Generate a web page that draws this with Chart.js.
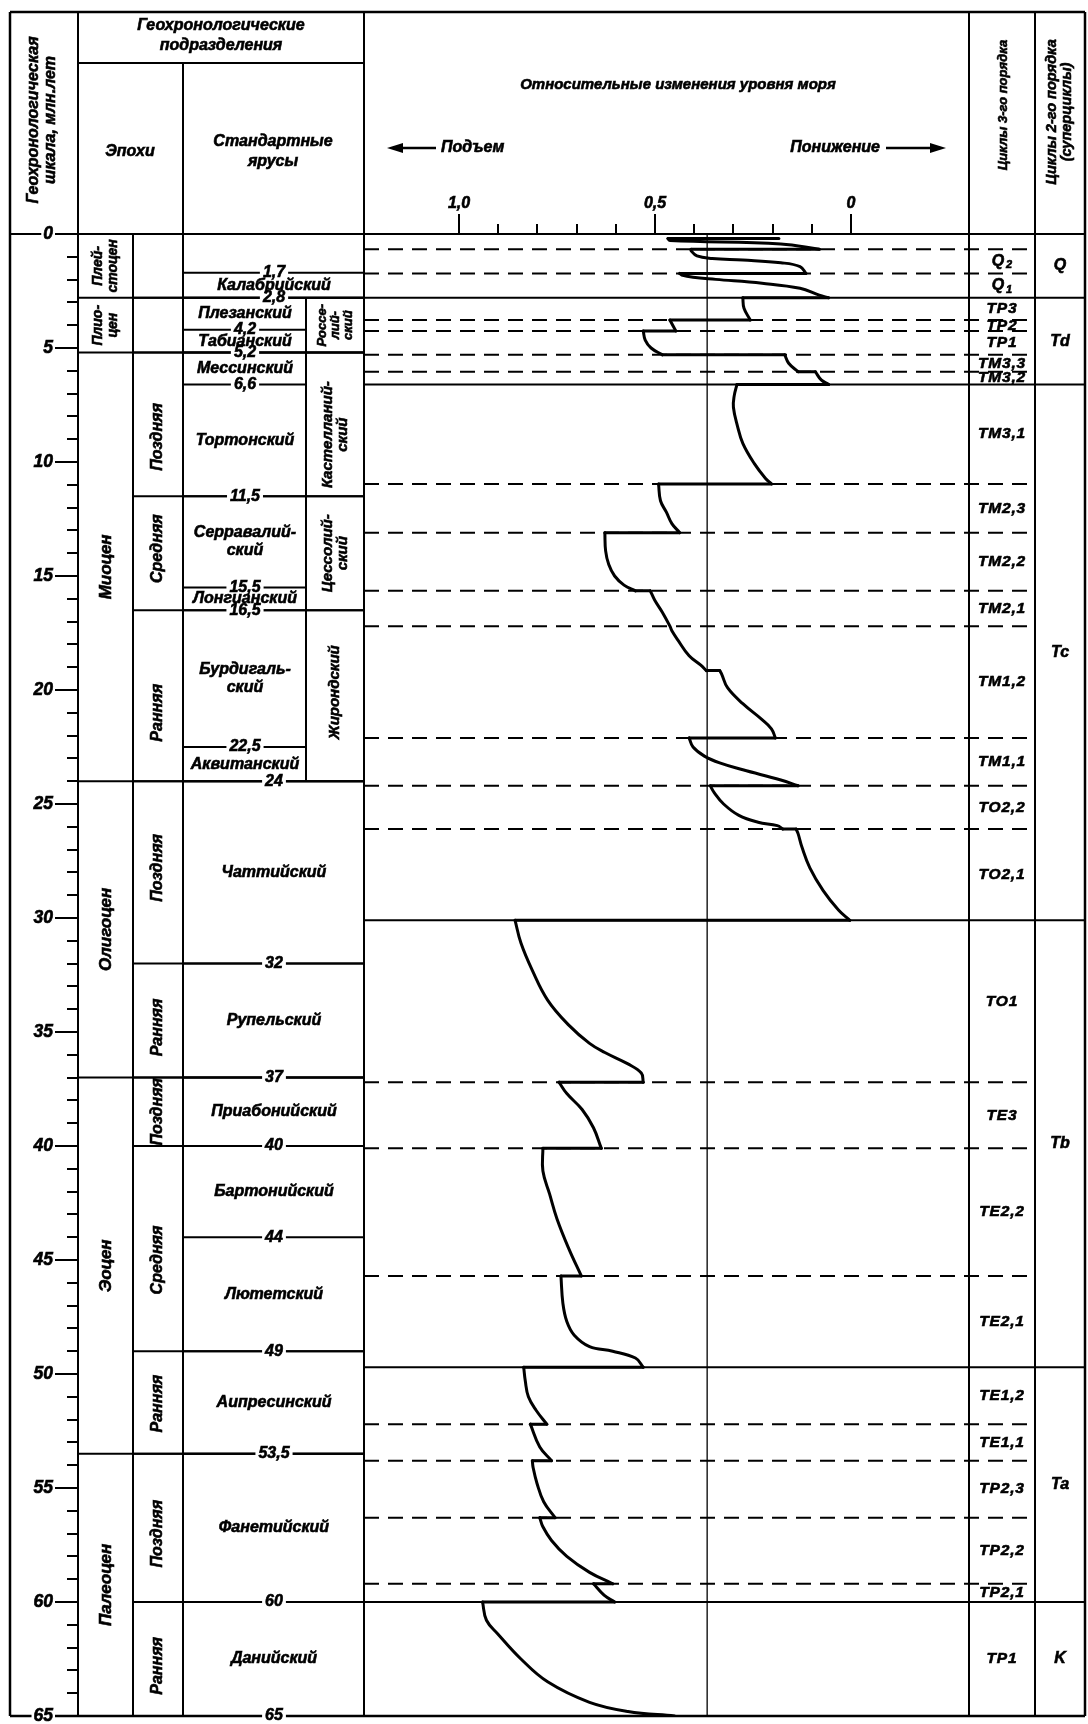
<!DOCTYPE html>
<html lang="ru">
<head>
<meta charset="utf-8">
<title>Относительные изменения уровня моря</title>
<script src="https://cdn.jsdelivr.net/npm/chart.js@4.4.1/dist/chart.umd.min.js"></script>
<style>
  html, body { margin: 0; padding: 0; background: #fff; }
  canvas { display: block; }
</style>
</head>
<body>
<canvas id="seaLevelChart" width="1088" height="1724"></canvas>
<script>
// ---- values ----

// relative sea-level curve, from oldest (65 Ma) to youngest; equal neighbouring ages = abrupt step
const curveLevel = [
  0.45, 0.569, 0.667, 0.774, 0.842, 0.901, 0.930, 0.940,
  0.603, 0.630, 0.657,
  0.608, 0.667, 0.725, 0.764, 0.786, 0.794,
  0.755, 0.784, 0.801, 0.811, 0.813,
  0.764, 0.794, 0.818,
  0.776, 0.803, 0.823, 0.831, 0.835,
  0.530, 0.550, 0.608, 0.667, 0.706, 0.725, 0.735, 0.740,
  0.688, 0.720, 0.750, 0.769, 0.786, 0.786,
  0.637, 0.657, 0.686, 0.725, 0.745,
  0.530, 0.535, 0.569, 0.628, 0.667, 0.720, 0.774, 0.813, 0.842, 0.857,
  0.003, 0.032, 0.071, 0.105, 0.125, 0.135, 0.140,
  0.174, 0.188, 0.237, 0.286, 0.325, 0.349, 0.359,
  0.135, 0.179, 0.276, 0.335, 0.374, 0.403, 0.413,
  0.193, 0.203, 0.227, 0.276, 0.315, 0.330, 0.335,
  0.369, 0.384, 0.413, 0.442, 0.457, 0.462, 0.481, 0.501, 0.512,
  0.550, 0.579, 0.603, 0.618, 0.626, 0.628,
  0.437, 0.457, 0.471, 0.486, 0.491,
  0.203, 0.218, 0.247, 0.276, 0.290, 0.300, 0.298, 0.291,
  0.057, 0.076, 0.091,
  0.135, 0.159, 0.169,
  0.481, 0.510, 0.525, 0.530,
  0.447, 0.462,
  0.257, 0.273, 0.276,
  0.057, 0.081, 0.130, 0.227, 0.345, 0.403, 0.432, 0.437,
  0.115, 0.130, 0.179, 0.276, 0.354, 0.393, 0.408, 0.408,
  0.081, 0.179, 0.462, 0.467,
  0.184
];
const curveAge = [
  65.0, 64.8, 64.4, 63.5, 62.5, 61.4, 60.8, 60.0,
  60.0, 59.7, 59.2,
  59.2, 58.7, 58.0, 57.3, 56.7, 56.3,
  56.3, 55.6, 54.8, 54.1, 53.8,
  53.8, 53.2, 52.2,
  52.2, 51.6, 51.0, 50.3, 49.7,
  49.7, 49.3, 49.0, 48.8, 48.3, 47.7, 46.9, 45.7,
  45.7, 44.5, 43.2, 42.1, 41.1, 40.1,
  40.1, 39.2, 38.4, 37.7, 37.2,
  37.2, 36.8, 36.4, 35.9, 35.5, 34.7, 33.6, 32.3, 31.1, 30.1,
  30.1, 29.65, 28.8, 27.8, 26.9, 26.3, 26.1,
  26.1, 25.95, 25.8, 25.5, 25.0, 24.5, 24.2,
  24.2, 23.95, 23.5, 23.2, 22.9, 22.5, 22.1,
  22.1, 21.7, 21.3, 20.6, 19.9, 19.3, 19.15,
  19.15, 18.9, 18.5, 17.8, 17.4, 17.2, 16.6, 16.05, 15.65,
  15.65, 15.4, 15.0, 14.5, 13.9, 13.1,
  13.1, 12.7, 12.2, 11.7, 10.96,
  10.96, 10.72, 10.06, 9.18, 8.4, 7.6, 7.1, 6.6,
  6.6, 6.4, 6.04,
  6.04, 5.67, 5.3,
  5.3, 5.0, 4.65, 4.25,
  4.25, 3.77,
  3.77, 3.26, 2.8,
  2.8, 2.68, 2.38, 2.16, 1.99, 1.90, 1.80, 1.73,
  1.73, 1.43, 1.26, 1.14, 1.07, 0.96, 0.73, 0.67,
  0.67, 0.44, 0.29, 0.2,
  0.2
];
const presentLevel = 0.367;

const timeMajorTicks = [0, 5, 10, 15, 20, 25, 30, 35, 40, 45, 50, 55, 60, 65];
const timeMinorTicks = [0, 1, 2, 3, 4, 5, 6, 7, 8, 9, 10, 11, 12, 13, 14, 15, 16, 17, 18, 19, 20,
  21, 22, 23, 24, 25, 26, 27, 28, 29, 30, 31, 32, 33, 34, 35, 36, 37, 38, 39, 40, 41, 42, 43,
  44, 45, 46, 47, 48, 49, 50, 51, 52, 53, 54, 55, 56, 57, 58, 59, 60, 61, 62, 63, 64, 65];
const levelTicks = [1.0, 0.5, 0];
const levelTickLabels = ['1,0', '0,5', '0'];
const levelMinorTicks = [0.9, 0.8, 0.7, 0.6, 0.4, 0.3, 0.2, 0.1];

const epochNames = ['Плей-\nстоцен', 'Плио-\nцен', 'Миоцен', 'Олигоцен', 'Эоцен', 'Палеоцен'];
const epochBounds = [0, 2.8, 5.2, 24, 37, 53.5, 65];

const subEpochNames = ['', '', 'Поздняя', 'Средняя', 'Ранняя', 'Поздняя', 'Ранняя',
  'Поздняя', 'Средняя', 'Ранняя', 'Поздняя', 'Ранняя'];
const subEpochBounds = [0, 2.8, 5.2, 11.5, 16.5, 24, 32, 37, 40, 49, 53.5, 60, 65];
const subEpochLabelAt = [1.4, 4, 8.9, 13.8, 21.0, 27.8, 34.8, 38.5, 45.0, 51.3, 57.0, 62.8];

const stageNames = ['', 'Калабрийский', 'Плезанский', 'Табианский', 'Мессинский', 'Тортонский',
  'Серравалий-\nский', 'Лонгианский', 'Бурдигаль-\nский', 'Аквитанский', 'Чаттийский', 'Рупельский',
  'Приабонийский', 'Бартонийский', 'Лютетский', 'Аипресинский', 'Фанетийский', 'Данийский'];
const stageBounds = [0, 1.7, 2.8, 4.2, 5.2, 6.6, 11.5, 15.5, 16.5, 22.5, 24, 32, 37, 40, 44, 49, 53.5, 60, 65];

const regionalNames = ['Россе-\nлий-\nский', 'Кастелланий-\nский', 'Цессолий-\nский', 'Жирондский'];
const regionalBounds = [2.8, 5.2, 11.5, 16.5, 24];
const regionalLabelAt = [4.0, 8.8, 14.0, 20.1];

const cycle3Names = ['', 'Q2', 'Q1', 'TP3', 'TP2', 'TP1', 'TM3,3', 'TM3,2', 'TM3,1', 'TM2,3', 'TM2,2',
  'TM2,1', 'TM1,2', 'TM1,1', 'TO2,2', 'TO2,1', 'TO1', 'TE3', 'TE2,2', 'TE2,1', 'TE1,2', 'TE1,1',
  'TP2,3', 'TP2,2', 'TP2,1', 'TP1'];
const cycle3Bounds = [0, 0.67, 1.73, 2.8, 3.77, 4.25, 5.3, 6.04, 6.6, 10.96, 13.1, 15.65, 17.2, 22.1,
  24.2, 26.1, 30.1, 37.2, 40.1, 45.7, 49.7, 52.2, 53.8, 56.3, 59.2, 60, 65];

const cycle2Names = ['Q', 'Td', 'Tc', 'Tb', 'Ta', 'K'];
const cycle2Bounds = [0, 2.8, 6.6, 30.1, 49.7, 60, 65];

// ---- layout (px) ----
const FONT = '"Liberation Sans", Arial, sans-serif';
const X_LEFT = 10, X_TIME = 78, X_EPOCH = 133, X_SUB = 183, X_REG = 306, X_STAGE = 364;
const X_PLOT_R = 969, X_CYC3 = 1035, X_RIGHT = 1085;
const Y_TOP = 12, Y_HEAD = 63;

Chart.defaults.font = { family: FONT, size: 16, style: 'italic', weight: 'bold' };
Chart.defaults.color = '#000';

function hLine(ctx, x1, x2, y, w, dash) {
  ctx.beginPath();
  ctx.lineWidth = w || 2;
  ctx.setLineDash(dash || []);
  ctx.moveTo(x1, y);
  ctx.lineTo(x2, y);
  ctx.stroke();
}

function vLine(ctx, x, y1, y2, w) {
  ctx.beginPath();
  ctx.lineWidth = w || 2;
  ctx.setLineDash([]);
  ctx.moveTo(x, y1);
  ctx.lineTo(x, y2);
  ctx.stroke();
}

function arrow(ctx, xFrom, xTo, y) {
  const dir = Math.sign(xTo - xFrom);
  ctx.setLineDash([]);
  ctx.lineWidth = 2.5;
  ctx.beginPath();
  ctx.moveTo(xFrom, y);
  ctx.lineTo(xTo - dir * 10, y);
  ctx.stroke();
  ctx.beginPath();
  ctx.moveTo(xTo, y);
  ctx.lineTo(xTo - dir * 16, y - 5);
  ctx.lineTo(xTo - dir * 16, y + 5);
  ctx.closePath();
  ctx.fill();
}

// bold italic text, heavier than the plain font to match the print
function say(ctx, s, x, y, size, o = {}) {
  ctx.save();
  ctx.font = `italic bold ${size}px ${FONT}`;
  ctx.fillStyle = '#000';
  ctx.strokeStyle = '#000';
  ctx.lineWidth = 0.6;
  ctx.setLineDash([]);
  if (o.spacing) ctx.letterSpacing = o.spacing;
  ctx.textAlign = o.align || 'center';
  ctx.textBaseline = 'middle';
  ctx.translate(x, y);
  if (o.vertical) ctx.rotate(-Math.PI / 2);
  const rows = s.split('\n');
  const lh = o.lh || size;
  rows.forEach((row, i) => {
    const dy = (i - (rows.length - 1) / 2) * lh;
    if (o.gap) {
      const w = ctx.measureText(row).width;
      ctx.fillStyle = '#fff';
      ctx.fillRect(-w / 2 - 3, dy - 4, w + 6, 8);
      ctx.fillStyle = '#000';
    }
    ctx.fillText(row, 0, dy);
    ctx.strokeText(row, 0, dy);
  });
  ctx.restore();
}

const isNarrowStage = a => a > 2.8 && a < 24;

const geoFrame = {
  id: 'geoFrame',
  beforeDraw(chart) {
    const ctx = chart.ctx;
    const Y = a => chart.scales.y.getPixelForValue(a);
    const yTop = Y(0), yBot = Y(65);
    ctx.save();
    ctx.fillStyle = '#fff';
    ctx.fillRect(0, 0, chart.width, chart.height);
    ctx.strokeStyle = '#000';

    // cycle boundaries across the curve panel
    cycle3Bounds.forEach(b => {
      if (b === 0 || b === 65 || cycle2Bounds.includes(b)) return;
      hLine(ctx, X_STAGE, X_CYC3, Y(b), 2, [15, 9]);
    });
    cycle2Bounds.forEach(b => {
      if (b > 0 && b < 65) hLine(ctx, X_STAGE, X_RIGHT, Y(b), 2);
    });

    // table rows
    epochBounds.forEach(b => { if (b > 0 && b < 65) hLine(ctx, X_TIME, X_STAGE, Y(b), 2); });
    subEpochBounds.forEach(b => { if (b > 0 && b < 65) hLine(ctx, X_EPOCH, X_STAGE, Y(b), 2); });
    stageBounds.forEach(b => {
      if (b <= 0 || b >= 65) return;
      const end = isNarrowStage(b) && !regionalBounds.includes(b) ? X_REG : X_STAGE;
      hLine(ctx, X_SUB, end, Y(b), 2);
    });

    // columns
    vLine(ctx, X_LEFT, Y_TOP, yBot, 2.5);
    vLine(ctx, X_TIME, Y_TOP, yBot, 2);
    vLine(ctx, X_EPOCH, yTop, yBot, 2);
    vLine(ctx, X_SUB, Y_HEAD, yBot, 2);
    vLine(ctx, X_REG, Y(2.8), Y(24), 2);
    vLine(ctx, X_STAGE, Y_TOP, yBot, 2);
    vLine(ctx, X_PLOT_R, Y_TOP, yBot, 2);
    vLine(ctx, X_CYC3, Y_TOP, yBot, 2);
    vLine(ctx, X_RIGHT, Y_TOP, yBot, 2.5);
    hLine(ctx, X_LEFT, X_RIGHT, Y_TOP, 2.5);
    hLine(ctx, X_TIME, X_STAGE, Y_HEAD, 2);
    hLine(ctx, X_LEFT, X_RIGHT, yTop, 2);
    hLine(ctx, X_LEFT, X_RIGHT, yBot, 2.5);
    ctx.restore();
  },
  afterDraw(chart) {
    const ctx = chart.ctx;
    const Y = a => chart.scales.y.getPixelForValue(a);
    ctx.save();
    ctx.fillStyle = '#000';
    ctx.strokeStyle = '#000';

    // headers
    say(ctx, 'Геохронологическая\nшкала, млн.лет', 42, 120, 16, { vertical: true, lh: 17 });
    say(ctx, 'Геохронологические\nподразделения', 221, 36, 16, { lh: 20 });
    say(ctx, 'Эпохи', 130, 152, 16);
    say(ctx, 'Стандартные\nярусы', 273, 152, 16, { lh: 20 });
    say(ctx, 'Относительные изменения уровня моря', 678, 85, 15);
    say(ctx, 'Подъем', 441, 148, 16, { align: 'left' });
    say(ctx, 'Понижение', 880, 148, 16, { align: 'right' });
    arrow(ctx, 436, 387, 148);
    arrow(ctx, 886, 946, 148);
    say(ctx, 'Циклы 3-го порядка', 1003, 105, 13, { vertical: true });
    say(ctx, 'Циклы 2-го порядка\n(суперциклы)', 1059, 112, 14.5, { vertical: true, lh: 15 });

    // epochs
    epochNames.forEach((n, i) => {
      const span = epochBounds[i + 1] - epochBounds[i];
      say(ctx, n, 106, Y((epochBounds[i] + epochBounds[i + 1]) / 2), span < 4 ? 14 : 17,
        { vertical: true, lh: 15 });
    });
    subEpochNames.forEach((n, i) => {
      if (n) say(ctx, n, 158, Y(subEpochLabelAt[i]), 16, { vertical: true });
    });

    // stage boundary ages written on the lines
    stageBounds.forEach(b => {
      if (b === 0) return;
      const x = isNarrowStage(b) ? 245 : 274;
      say(ctx, String(b).replace('.', ','), x, Y(b), 16, { gap: true });
    });
    stageNames.forEach((n, i) => {
      if (!n) return;
      const a = (stageBounds[i] + stageBounds[i + 1]) / 2;
      const x = isNarrowStage(a) ? 245 : 274;
      say(ctx, n, x, Y(a), 16, { lh: 18 });
    });
    regionalNames.forEach((n, i) => {
      const rows = n.split('\n').length;
      say(ctx, n, 335, Y(regionalLabelAt[i]), rows > 2 ? 13 : 15, { vertical: true, lh: rows > 2 ? 13 : 15 });
    });

    // cycles
    cycle3Names.forEach((n, i) => {
      if (!n) return;
      const y = Y((cycle3Bounds[i] + cycle3Bounds[i + 1]) / 2);
      if (n[0] === 'Q') {
        say(ctx, 'Q', 998, y, 16);
        say(ctx, n.slice(1), 1009, y + 4, 11);
      } else {
        say(ctx, n, 1002, y, 15.5, { spacing: '0.8px' });
      }
    });
    cycle2Names.forEach((n, i) => {
      say(ctx, n, 1060, Y((cycle2Bounds[i] + cycle2Bounds[i + 1]) / 2), 16);
    });
    ctx.restore();
  }
};

// split the curve into smooth stretches and straight abrupt steps
const curvePoints = curveLevel.map((v, i) => ({ x: v, y: curveAge[i] }));
const pieces = [];
let run = [curvePoints[0]];
for (let i = 1; i < curvePoints.length; i++) {
  const p = curvePoints[i], q = curvePoints[i - 1];
  if (p.y === q.y) {
    if (run.length > 1) pieces.push({ pts: run, smooth: true });
    pieces.push({ pts: [q, p], smooth: false });
    run = [p];
  } else {
    run.push(p);
  }
}
if (run.length > 1) pieces.push({ pts: run, smooth: true });

const datasets = pieces.map(pc => ({
  data: pc.pts,
  tension: pc.smooth ? 0.4 : 0,
  borderColor: '#000',
  borderWidth: 3,
  borderCapStyle: 'round',
  borderJoinStyle: 'round',
  pointRadius: 0,
  fill: false
}));
datasets.push({
  data: [{ x: presentLevel, y: 0 }, { x: presentLevel, y: 65 }],
  borderColor: '#000',
  borderWidth: 1.3,
  pointRadius: 0,
  fill: false
});

const tickGrid = len => ({
  display: true, drawOnChartArea: false, drawTicks: true,
  tickLength: len, tickWidth: 2, lineWidth: 2, tickColor: '#000', color: '#000'
});

new Chart(document.getElementById('seaLevelChart'), {
  type: 'line',
  data: { datasets },
  options: {
    responsive: false,
    devicePixelRatio: 1,
    animation: false,
    layout: { padding: { left: 10, right: 119, top: 194, bottom: 8 } },
    plugins: { legend: { display: false }, tooltip: { enabled: false } },
    scales: {
      x: {
        type: 'linear', position: 'top', reverse: true, min: -0.301, max: 1.972, weight: 1,
        border: { display: false },
        grid: tickGrid(20),
        afterBuildTicks: s => { s.ticks = levelTicks.map(v => ({ value: v })); },
        afterFit: s => { s.height = 40; s.paddingLeft = 0; s.paddingRight = 0; },
        ticks: {
          autoSkip: false, maxRotation: 0, padding: 1,
          font: { size: 16, style: 'italic', weight: 'bold' },
          textStrokeColor: '#000', textStrokeWidth: 0.6,
          callback: (v, i) => levelTickLabels[i]
        }
      },
      x2: {
        type: 'linear', position: 'top', reverse: true, min: -0.301, max: 1.972, weight: 0,
        border: { display: false },
        grid: tickGrid(10),
        afterBuildTicks: s => { s.ticks = levelMinorTicks.map(v => ({ value: v })); },
        afterFit: s => { s.height = 0; s.paddingLeft = 0; s.paddingRight = 0; },
        ticks: { display: false, autoSkip: false }
      },
      y: {
        type: 'linear', position: 'left', reverse: true, min: 0, max: 65, weight: 1,
        border: { display: false },
        grid: tickGrid(23),
        afterBuildTicks: s => { s.ticks = timeMajorTicks.map(v => ({ value: v })); },
        afterFit: s => { s.width = 68; s.paddingTop = 0; s.paddingBottom = 0; },
        ticks: {
          autoSkip: false, padding: 2,
          font: { size: 17.5, style: 'italic', weight: 'bold' },
          textStrokeColor: '#000', textStrokeWidth: 0.6,
          callback: v => String(v),
          showLabelBackdrop: c => c.tick && (c.tick.value === 0 || c.tick.value === 65),
          backdropColor: '#fff',
          backdropPadding: { left: 2, right: 2, top: 0, bottom: 0 }
        }
      },
      y2: {
        type: 'linear', position: 'left', reverse: true, min: 0, max: 65, weight: 0,
        border: { display: false },
        grid: tickGrid(11),
        afterBuildTicks: s => { s.ticks = timeMinorTicks.map(v => ({ value: v })); },
        afterFit: s => { s.width = 0; s.paddingTop = 0; s.paddingBottom = 0; },
        ticks: { display: false, autoSkip: false }
      }
    }
  },
  plugins: [geoFrame]
});
</script>
</body>
</html>
